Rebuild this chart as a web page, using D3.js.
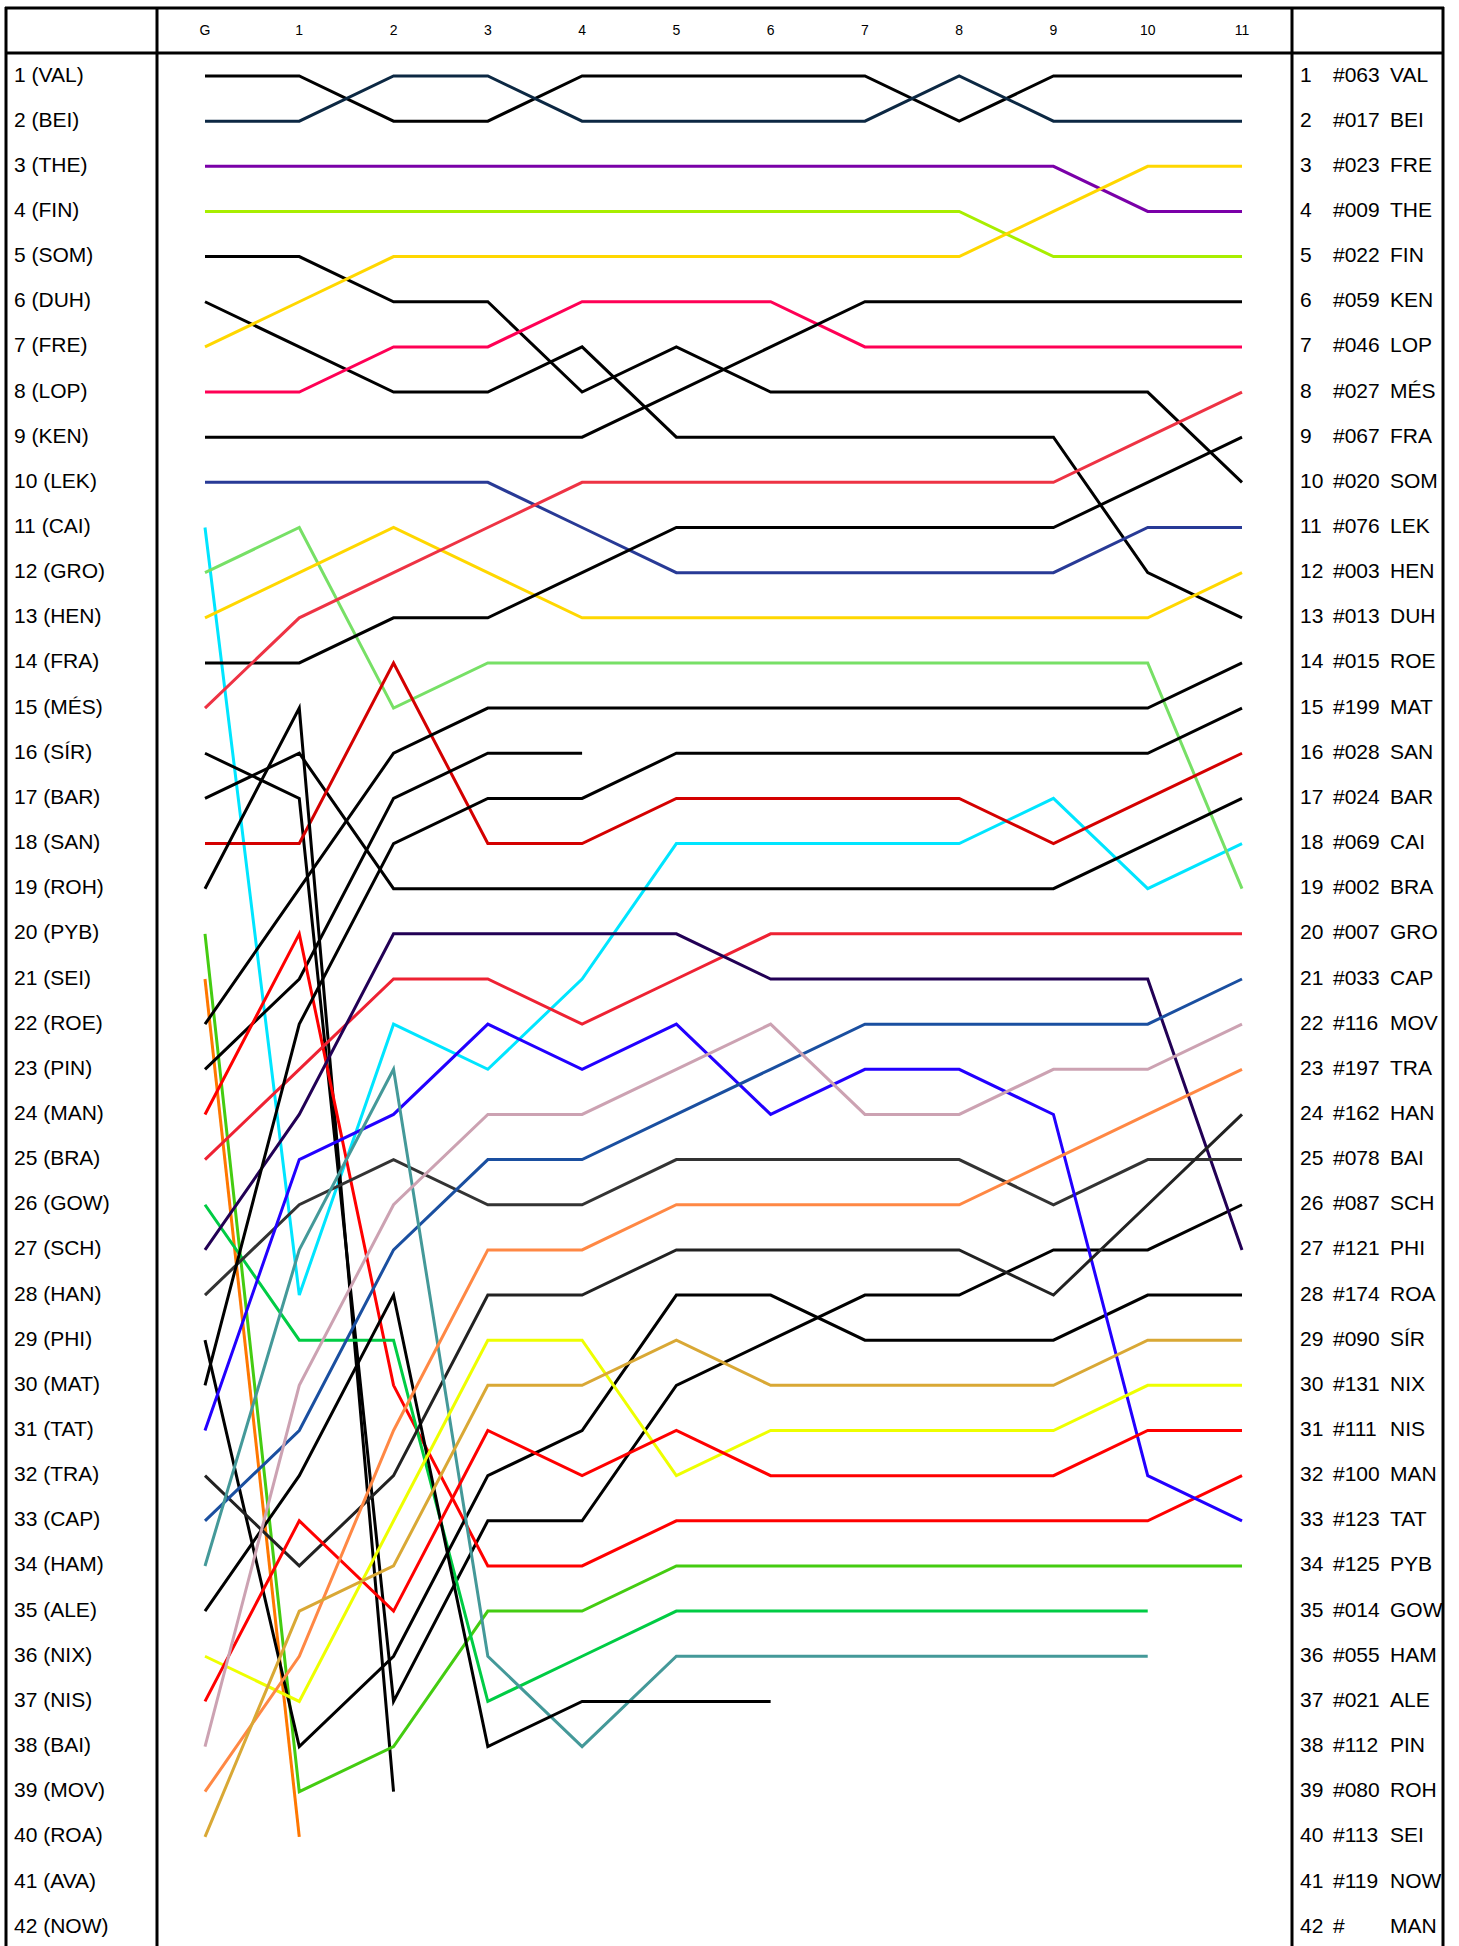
<!DOCTYPE html>
<html>
<head>
<meta charset="utf-8">
<script src="https://cdn.jsdelivr.net/npm/d3@7"></script>
<style>
  body { margin: 0; background: #fff; }
  text { font-family: "Liberation Sans", Arial, sans-serif; fill: #000; }
</style>
</head>
<body>
<div id="chart"></div>
<script>
// lap columns
const laps = ["G", "1", "2", "3", "4", "5", "6", "7", "8", "9", "10", "11"];

// grid order (left column)
const gridNames = ["VAL", "BEI", "THE", "FIN", "SOM", "DUH", "FRE", "LOP", "KEN", "LEK",
  "CAI", "GRO", "HEN", "FRA", "MÉS", "SÍR", "BAR", "SAN", "ROH", "PYB",
  "SEI", "ROE", "PIN", "MAN", "BRA", "GOW", "SCH", "HAN", "PHI", "MAT",
  "TAT", "TRA", "CAP", "HAM", "ALE", "NIX", "NIS", "BAI", "MOV", "ROA",
  "AVA", "NOW"];

// result column (right)
const resultCars = ["#063", "#017", "#023", "#009", "#022", "#059", "#046", "#027", "#067", "#020",
  "#076", "#003", "#013", "#015", "#199", "#028", "#024", "#069", "#002", "#007",
  "#033", "#116", "#197", "#162", "#078", "#087", "#121", "#174", "#090", "#131",
  "#111", "#100", "#123", "#125", "#014", "#055", "#021", "#112", "#080", "#113",
  "#119", "#"];
const resultNames = ["VAL", "BEI", "FRE", "THE", "FIN", "KEN", "LOP", "MÉS", "FRA", "SOM",
  "LEK", "HEN", "DUH", "ROE", "MAT", "SAN", "BAR", "CAI", "BRA", "GRO",
  "CAP", "MOV", "TRA", "HAN", "BAI", "SCH", "PHI", "ROA", "SÍR", "NIX",
  "NIS", "MAN", "TAT", "PYB", "GOW", "HAM", "ALE", "PIN", "ROH", "SEI",
  "NOW", "MAN"];

// line colour per driver, grid order
const lineColors = ["#000000", "#0c2843", "#7a00a8", "#a8ee00", "#000000", "#000000", "#ffd700", "#ff0055", "#000000", "#283a96",
  "#00e5ff", "#77e066", "#ffd700", "#000000", "#ee3344", "#000000", "#000000", "#d40000", "#000000", "#44cc11",
  "#ff7700", "#000000", "#000000", "#ff0000", "#ee2233", "#00cc44", "#220055", "#333333", "#000000", "#000000",
  "#2200ff", "#222222", "#1a4fa0", "#449999", "#000000", "#eeff00", "#ff0000", "#cca2b2", "#ff8844", "#d9a835",
  "#000000", "#000000"];

// running position at G and after each lap, grid order (null = not running)
const _ = null;
const lapPositions = [
  [1, 1, 2, 2, 1, 1, 1, 1, 2, 1, 1, 1],
  [2, 2, 1, 1, 2, 2, 2, 2, 1, 2, 2, 2],
  [3, 3, 3, 3, 3, 3, 3, 3, 3, 3, 4, 4],
  [4, 4, 4, 4, 4, 4, 4, 4, 4, 5, 5, 5],
  [5, 5, 6, 6, 8, 7, 8, 8, 8, 8, 8, 10],
  [6, 7, 8, 8, 7, 9, 9, 9, 9, 9, 12, 13],
  [7, 6, 5, 5, 5, 5, 5, 5, 5, 4, 3, 3],
  [8, 8, 7, 7, 6, 6, 6, 7, 7, 7, 7, 7],
  [9, 9, 9, 9, 9, 8, 7, 6, 6, 6, 6, 6],
  [10, 10, 10, 10, 11, 12, 12, 12, 12, 12, 11, 11],
  [11, 28, 22, 23, 21, 18, 18, 18, 18, 17, 19, 18],
  [12, 11, 15, 14, 14, 14, 14, 14, 14, 14, 14, 19],
  [13, 12, 11, 12, 13, 13, 13, 13, 13, 13, 13, 12],
  [14, 14, 13, 13, 12, 11, 11, 11, 11, 11, 10, 9],
  [15, 13, 12, 11, 10, 10, 10, 10, 10, 10, 9, 8],
  [16, 17, 37, 33, 33, 30, 29, 28, 28, 27, 27, 26],
  [17, 16, 19, 19, 19, 19, 19, 19, 19, 19, 18, 17],
  [18, 18, 14, 18, 18, 17, 17, 17, 17, 18, 17, 16],
  [19, 15, 39, _, _, _, _, _, _, _, _, _],
  [20, 39, 38, 35, 35, 34, 34, 34, 34, 34, 34, 34],
  [21, 40, _, _, _, _, _, _, _, _, _, _],
  [22, 19, 16, 15, 15, 15, 15, 15, 15, 15, 15, 14],
  [23, 21, 17, 16, 16, _, _, _, _, _, _, _],
  [24, 20, 30, 34, 34, 33, 33, 33, 33, 33, 33, 32],
  [25, 23, 21, 21, 22, 21, 20, 20, 20, 20, 20, 20],
  [26, 29, 29, 37, 36, 35, 35, 35, 35, 35, 35, _],
  [27, 24, 20, 20, 20, 20, 21, 21, 21, 21, 21, 27],
  [28, 26, 25, 26, 26, 25, 25, 25, 25, 26, 25, 25],
  [29, 38, 36, 32, 31, 28, 28, 29, 29, 29, 28, 28],
  [30, 22, 18, 17, 17, 16, 16, 16, 16, 16, 16, 15],
  [31, 25, 24, 22, 23, 22, 24, 23, 23, 24, 32, 33],
  [32, 34, 32, 28, 28, 27, 27, 27, 27, 28, 26, 24],
  [33, 31, 27, 25, 25, 24, 23, 22, 22, 22, 22, 21],
  [34, 27, 23, 36, 38, 36, 36, 36, 36, 36, 36, _],
  [35, 32, 28, 38, 37, 37, 37, _, _, _, _, _],
  [36, 37, 33, 29, 29, 32, 31, 31, 31, 31, 30, 30],
  [37, 33, 35, 31, 32, 31, 32, 32, 32, 32, 31, 31],
  [38, 30, 26, 24, 24, 23, 22, 24, 24, 23, 23, 22],
  [39, 36, 31, 27, 27, 26, 26, 26, 26, 25, 24, 23],
  [40, 35, 34, 30, 30, 29, 30, 30, 30, 30, 29, 29],
  [_, _, _, _, _, _, _, _, _, _, _, _],
  [_, _, _, _, _, _, _, _, _, _, _, _]
];

const width = 1459;
const height = 1946;

const svg = d3.select("#chart")
  .append("svg")
  .attr("width", width)
  .attr("height", height);

const x = d3.scalePoint().domain(laps).range([205, 1242]);
const y = d3.scaleLinear().domain([1, 42]).range([76, 76 + 41 * 45.15]);

// frame
const frame = svg.append("g")
  .attr("stroke", "#000")
  .attr("stroke-width", 3);
frame.append("line").attr("x1", 5).attr("x2", 1444).attr("y1", 8).attr("y2", 8);
frame.append("line").attr("x1", 5).attr("x2", 1444).attr("y1", 53).attr("y2", 53);
[6, 157, 1292, 1443].forEach(xx => {
  frame.append("line").attr("x1", xx).attr("x2", xx).attr("y1", 7).attr("y2", height + 5);
});

// lap header
svg.append("g")
  .selectAll("text")
  .data(laps)
  .join("text")
  .attr("x", d => x(d))
  .attr("y", 31)
  .attr("text-anchor", "middle")
  .attr("dominant-baseline", "middle")
  .attr("font-size", 14)
  .text(d => d);

// grid labels
svg.append("g")
  .selectAll("text")
  .data(gridNames)
  .join("text")
  .attr("x", 14)
  .attr("y", (d, i) => y(i + 1))
  .attr("dominant-baseline", "middle")
  .attr("font-size", 21)
  .text((d, i) => `${i + 1} (${d})`);

// result labels
const res = svg.append("g")
  .selectAll("g")
  .data(resultNames)
  .join("g")
  .attr("transform", (d, i) => `translate(0,${y(i + 1)})`);
res.append("text").attr("x", 1300).attr("dominant-baseline", "middle").attr("font-size", 21)
  .text((d, i) => i + 1);
res.append("text").attr("x", 1333).attr("dominant-baseline", "middle").attr("font-size", 21)
  .text((d, i) => resultCars[i]);
res.append("text").attr("x", 1390).attr("dominant-baseline", "middle").attr("font-size", 21)
  .text(d => d);

// position lines
const line = d3.line()
  .defined(d => d.pos != null)
  .x(d => x(d.lap))
  .y(d => y(d.pos));

svg.append("g")
  .selectAll("path")
  .data(lapPositions.map((p, i) => ({ color: lineColors[i], pts: p.map((v, j) => ({ lap: laps[j], pos: v })) })))
  .join("path")
  .attr("fill", "none")
  .attr("stroke", d => d.color)
  .attr("stroke-width", 3)
  .attr("stroke-linejoin", "miter")
  .attr("d", d => line(d.pts));
</script>
</body>
</html>
